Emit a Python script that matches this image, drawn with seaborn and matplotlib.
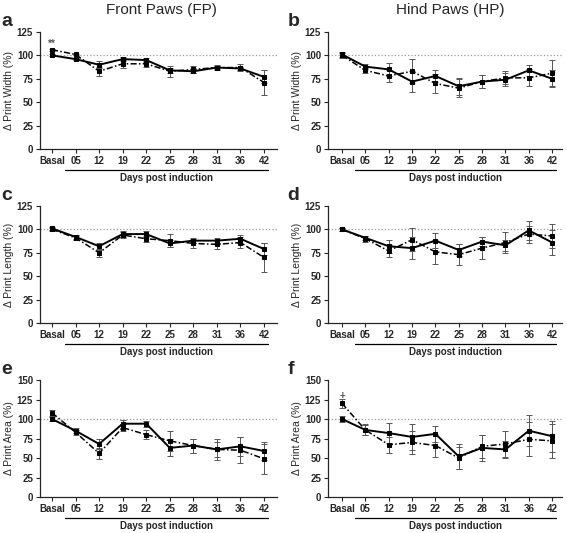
import numpy as np
import pandas as pd
import matplotlib
matplotlib.use('Agg')
import matplotlib.pyplot as plt
import matplotlib.transforms as mtransforms
import seaborn as sns

days = ['Basal', '05', '12', '19', '22', '25', '28', '31', '36', '42']

# a: print width, front paws
width_fp_solid = [100, 96, 90, 96, 95, 84, 83, 87, 86, 77]
width_fp_solid_err = [1, 1, 4, 2, 2, 3, 2, 2, 2, 7]
width_fp_dash = [106, 101, 83, 91, 91, 83, 85, 87, 87, 71]
width_fp_dash_err = [1, 1, 5, 4, 3, 6, 4, 3, 4, 13]
# b: print width, hind paws
width_hp_solid = [101, 88, 85, 72, 78, 67, 72, 74, 84, 75]
width_hp_solid_err = [3, 3, 7, 11, 6, 9, 7, 7, 6, 9]
width_hp_dash = [100, 84, 78, 83, 70, 65, 72, 76, 76, 81]
width_hp_dash_err = [3, 3, 6, 13, 10, 10, 7, 7, 9, 14]
# c: print length, front paws
length_fp_solid = [101, 92, 82, 95, 95, 85, 88, 88, 90, 79]
length_fp_solid_err = [2, 2, 4, 3, 3, 4, 3, 3, 4, 6]
length_fp_dash = [100, 91, 75, 94, 90, 88, 85, 84, 86, 70]
length_fp_dash_err = [2, 2, 4, 3, 3, 7, 5, 5, 6, 15]
# d: print length, hind paws
length_hp_solid = [100, 91, 82, 80, 88, 78, 87, 83, 99, 86]
length_hp_solid_err = [2, 2, 7, 12, 8, 6, 5, 6, 10, 13]
length_hp_dash = [100, 90, 77, 89, 76, 73, 80, 86, 95, 93]
length_hp_dash_err = [2, 3, 6, 12, 13, 11, 12, 11, 9, 13]
# e: print area, front paws
area_fp_solid = [100, 85, 68, 94, 94, 63, 66, 61, 65, 59]
area_fp_solid_err = [3, 3, 7, 5, 4, 11, 9, 10, 12, 11]
area_fp_dash = [108, 83, 56, 89, 80, 72, 66, 61, 60, 49]
area_fp_dash_err = [4, 3, 7, 4, 6, 13, 9, 13, 17, 19]
# f: print area, hind paws
area_hp_solid = [100, 86, 82, 77, 81, 52, 63, 61, 85, 78]
area_hp_solid_err = [4, 7, 13, 17, 10, 16, 17, 11, 20, 20]
area_hp_dash = [120, 86, 67, 70, 66, 50, 65, 68, 74, 72]
area_hp_dash_err = [6, 6, 10, 15, 15, 14, 15, 17, 22, 22]

sns.set_style('ticks')
plt.rcParams['font.family'] = ['Liberation Sans', 'DejaVu Sans']

fig = plt.figure(figsize=(5.67, 5.33), dpi=100)

panels = [
    ('a', 'Δ Print Width (%)', width_fp_solid, width_fp_solid_err, width_fp_dash, width_fp_dash_err, 125, '**'),
    ('b', 'Δ Print Width (%)', width_hp_solid, width_hp_solid_err, width_hp_dash, width_hp_dash_err, 125, None),
    ('c', 'Δ Print Length (%)', length_fp_solid, length_fp_solid_err, length_fp_dash, length_fp_dash_err, 125, None),
    ('d', 'Δ Print Length (%)', length_hp_solid, length_hp_solid_err, length_hp_dash, length_hp_dash_err, 125, None),
    ('e', 'Δ Print Area (%)', area_fp_solid, area_fp_solid_err, area_fp_dash, area_fp_dash_err, 150, None),
    ('f', 'Δ Print Area (%)', area_hp_solid, area_hp_solid_err, area_hp_dash, area_hp_dash_err, 150, '+'),
]

lefts = [0.0705, 0.5785]
widths = [0.418, 0.413]
bottoms = [0.7205, 0.394, 0.0675]
height = 0.2195
xlims = [(-0.51, 9.55), (-0.6, 9.43)]
letter_x = [0.002, 0.507]

for i, (letter, ylabel, s, se, d, de, ymax, mark) in enumerate(panels):
    col = i % 2
    row = i // 2
    ax = fig.add_axes([lefts[col], bottoms[row], widths[col], height])
    df = pd.DataFrame({'day': days * 2,
                       'value': s + d,
                       'err': se + de,
                       'group': ['solid'] * len(days) + ['dash'] * len(days)})
    ax.axhline(100, color='#999999', lw=0.9, ls=':', zorder=0)
    for grp, ls, lw, ms in [('dash', (0, (4, 1.5, 1, 1.5)), 1.1, 2.5), ('solid', '-', 1.4, 3)]:
        sub = df[df['group'] == grp]
        ax.errorbar(sub['day'], sub['value'], yerr=sub['err'], fmt='none',
                    ecolor='#555555', elinewidth=0.7, capsize=2, capthick=0.7, zorder=2)
        sns.lineplot(data=sub, x='day', y='value', ax=ax, color='black', lw=lw,
                     linestyle=ls, marker='s', markersize=ms, markeredgecolor='black',
                     sort=False, zorder=3)
    if mark:
        ax.text(0, d[0] + (6 if mark == '**' else 10), mark, ha='center', va='center',
                fontsize=7, color='#555555', fontweight='bold')
    ax.set_xlim(*xlims[col])
    ax.set_ylim(0, ymax)
    ax.set_yticks(np.arange(0, ymax + 1, 25))
    ax.set_xlabel('')
    ax.set_ylabel(ylabel, fontsize=7.5, labelpad=2)
    ax.tick_params(axis='both', labelsize=7, length=3, width=0.8, pad=2)
    for lab in ax.get_xticklabels() + ax.get_yticklabels():
        lab.set_fontweight('bold')
    sns.despine(ax=ax)
    for sp in ax.spines.values():
        sp.set_linewidth(0.9)
    trans = mtransforms.blended_transform_factory(ax.transData, ax.transAxes)
    ax.plot([0.55, 9.15], [-0.18, -0.18], color='black', lw=0.9,
            transform=trans, clip_on=False)
    ax.text(4.85, -0.245, 'Days post induction', transform=trans, ha='center',
            va='center', fontsize=7, fontweight='bold')
    fig.text(letter_x[col], bottoms[row] + height + 0.019, letter,
             fontsize=14, fontweight='bold', ha='left', va='center')

fig.text(0.284, 0.982, 'Front Paws (FP)', ha='center', va='center', fontsize=11)
fig.text(0.794, 0.982, 'Hind Paws (HP)', ha='center', va='center', fontsize=11)

fig.savefig('out.png', dpi=100)
